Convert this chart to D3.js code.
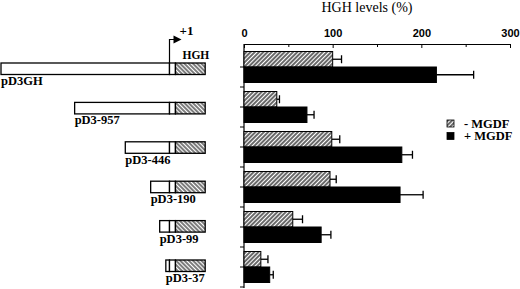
<!DOCTYPE html>
<html>
<head>
<meta charset="utf-8">
<script src="https://cdn.jsdelivr.net/npm/d3@7"></script>
<style>
  body { margin: 0; background: #fff; }
  svg { display: block; font-family: "Liberation Serif", "Times New Roman", serif; }
</style>
</head>
<body>
<div id="my_dataviz"></div>
<script>
// ---------------------------  DATA  ---------------------------
const constructs    = ["pD3GH", "pD3-957", "pD3-446", "pD3-190", "pD3-99", "pD3-37"];
const promoterStart = [-1700, -957, -446, -190, -99, -37];   // bp, relative to +1
const exonRange     = [0, 60];      // small box right after +1
const hghRange      = [60, 360];    // HGH reporter (hatched)

const series      = ["- MGDF", "+ MGDF"];
const minusMGDF   = [100, 37, 99, 97, 55, 19];
const minusErr    = [10, 3, 9, 7, 11, 8];
const plusMGDF    = [217, 71, 178, 176, 87, 29];
const plusErr     = [42, 8, 12, 26, 11, 4];

const xTicks      = [0, 100, 200, 300];
const xMinorTicks = [50, 150, 250];

// ---------------------------  SETUP  ---------------------------
const W = 520, H = 289;

const svg = d3.select("#my_dataviz")
    .append("svg")
        .attr("width", W)
        .attr("height", H);

const defs = svg.append("defs");

// hatch for the bars ("/")
defs.append("pattern")
        .attr("id", "hatchBar")
        .attr("patternUnits", "userSpaceOnUse")
        .attr("width", 3).attr("height", 3)
        .attr("patternTransform", "rotate(45)")
    .call(p => {
        p.append("rect").attr("width", 3).attr("height", 3).attr("fill", "#fff");
        p.append("line").attr("x1", 1).attr("x2", 1).attr("y1", 0).attr("y2", 3)
            .attr("stroke", "#2a2a2a").attr("stroke-width", 1.4);
    });

// hatch for the HGH part of the constructs ("\")
defs.append("pattern")
        .attr("id", "hatchGene")
        .attr("patternUnits", "userSpaceOnUse")
        .attr("width", 3).attr("height", 3)
        .attr("patternTransform", "rotate(-45)")
    .call(p => {
        p.append("rect").attr("width", 3).attr("height", 3).attr("fill", "#fff");
        p.append("line").attr("x1", 1).attr("x2", 1).attr("y1", 0).attr("y2", 3)
            .attr("stroke", "#111").attr("stroke-width", 1.1);
    });

// ---------------------------  BAR CHART  ---------------------------
const x = d3.scaleLinear().domain([0, 300]).range([244, 510]);
const y = d3.scaleBand().domain(constructs).range([47, 287]);
const ySub = d3.scaleBand().domain(series).range([0, y.bandwidth()]).paddingOuter(0.29);

// title
svg.append("text")
    .attr("x", 367).attr("y", 12)
    .attr("text-anchor", "middle")
    .style("font-size", "14px")
    .text("HGH levels (%)");

// top axis
const xAxis = svg.append("g")
    .attr("transform", "translate(0,44)")
    .call(d3.axisTop(x).tickValues(xTicks).tickSizeInner(-4).tickSizeOuter(0).tickPadding(7));
xAxis.select(".domain").attr("stroke-width", 1.2);
xAxis.selectAll("text").style("font-size", "11px").style("font-weight", "bold").attr("fill", "#000");

svg.append("g")
    .attr("transform", "translate(0,44)")
    .call(d3.axisTop(x).tickValues(xMinorTicks).tickSizeInner(-3).tickSizeOuter(0).tickFormat(""))
    .select(".domain").remove();

// left axis line + ticks (group centres and group boundaries)
svg.append("line")
    .attr("x1", x(0)).attr("x2", x(0))
    .attr("y1", 44).attr("y2", 288)
    .attr("stroke", "#000").attr("stroke-width", 1.2);

const yTickPos = constructs.flatMap(c => [y(c) + y.bandwidth() / 2, y(c) + y.bandwidth()]);
svg.selectAll(".ytick")
    .data(yTickPos)
    .join("line")
        .attr("class", "ytick")
        .attr("x1", x(0) - 4).attr("x2", x(0))
        .attr("y1", d => d).attr("y2", d => d)
        .attr("stroke", "#000").attr("stroke-width", 1);

const barData = constructs.flatMap((c, i) => [
    { construct: c, s: series[0], v: minusMGDF[i], e: minusErr[i] },
    { construct: c, s: series[1], v: plusMGDF[i],  e: plusErr[i] }
]);

const fillFor = s => s === series[0] ? "url(#hatchBar)" : "#000";
const barY = d => y(d.construct) + ySub(d.s);
const barMid = d => barY(d) + ySub.bandwidth() / 2;

// error bars (drawn first so bars cover their stems)
const errs = svg.append("g").attr("stroke", "#000").attr("stroke-width", 1.3);
errs.selectAll(".stem")
    .data(barData)
    .join("line")
        .attr("x1", d => x(d.v)).attr("x2", d => x(d.v + d.e))
        .attr("y1", barMid).attr("y2", barMid);
errs.selectAll(".cap")
    .data(barData)
    .join("line")
        .attr("x1", d => x(d.v + d.e)).attr("x2", d => x(d.v + d.e))
        .attr("y1", d => barMid(d) - 4).attr("y2", d => barMid(d) + 4);

svg.selectAll(".bar")
    .data(barData)
    .join("rect")
        .attr("class", "bar")
        .attr("x", x(0))
        .attr("y", barY)
        .attr("width", d => x(d.v) - x(0))
        .attr("height", ySub.bandwidth())
        .attr("fill", d => fillFor(d.s))
        .attr("stroke", "#000").attr("stroke-width", 1);

// legend
const legend = svg.append("g").attr("transform", "translate(447,120)");
series.forEach((s, i) => {
    legend.append("rect")
        .attr("x", 0).attr("y", i * 12.5)
        .attr("width", 7).attr("height", 7)
        .attr("fill", fillFor(s))
        .attr("stroke", "#000").attr("stroke-width", 0.8);
    legend.append("text")
        .attr("x", 17).attr("y", i * 12.5 + 7.5)
        .style("font-size", "12.5px").style("font-weight", "bold")
        .text(s);
});

// ---------------------------  CONSTRUCT DIAGRAM  ---------------------------
const bp = d3.scaleLinear().domain([-1700, 0]).range([1, 169.5]);
const row = d3.scalePoint().domain(constructs).range([63, 260]);
const boxH = 11.5;

const rows = svg.selectAll(".construct")
    .data(constructs)
    .join("g")
        .attr("class", "construct")
        .attr("transform", c => `translate(0,${row(c)})`);

rows.append("rect")     // promoter
    .attr("x", (c, i) => bp(promoterStart[i]))
    .attr("width", (c, i) => bp(exonRange[0]) - bp(promoterStart[i]))
    .attr("height", boxH)
    .attr("fill", "#fff").attr("stroke", "#000").attr("stroke-width", 1.3);

rows.append("rect")     // +1 box
    .attr("x", bp(exonRange[0]))
    .attr("width", bp(exonRange[1]) - bp(exonRange[0]))
    .attr("height", boxH)
    .attr("fill", "#fff").attr("stroke", "#000").attr("stroke-width", 1.3);

rows.append("rect")     // HGH
    .attr("x", bp(hghRange[0]))
    .attr("width", bp(hghRange[1]) - bp(hghRange[0]))
    .attr("height", boxH)
    .attr("fill", "url(#hatchGene)").attr("stroke", "#000").attr("stroke-width", 1.3);

rows.append("text")
    .attr("x", (c, i) => bp(promoterStart[i]))
    .attr("y", 22)
    .style("font-size", "12.5px").style("font-weight", "bold")
    .text(c => c);

// transcription start arrow on the first construct
const arrowTop = 39.5;
svg.append("path")
    .attr("d", `M${bp(0)},${row(constructs[0])} V${arrowTop} H${bp(0) + 5}`)
    .attr("fill", "none").attr("stroke", "#000").attr("stroke-width", 1.2);
svg.append("path")
    .attr("d", `M${bp(0) + 4},${arrowTop - 4} L${bp(0) + 12},${arrowTop} L${bp(0) + 4},${arrowTop + 4} Z`)
    .attr("fill", "#000");
svg.append("text")
    .attr("x", bp(0) + 10).attr("y", 35)
    .style("font-size", "13px").style("font-weight", "bold")
    .text("+1");
svg.append("text")
    .attr("x", bp(hghRange[0]) + 7).attr("y", 58.5)
    .style("font-size", "11.5px").style("font-weight", "bold")
    .text("HGH");
</script>
</body>
</html>
